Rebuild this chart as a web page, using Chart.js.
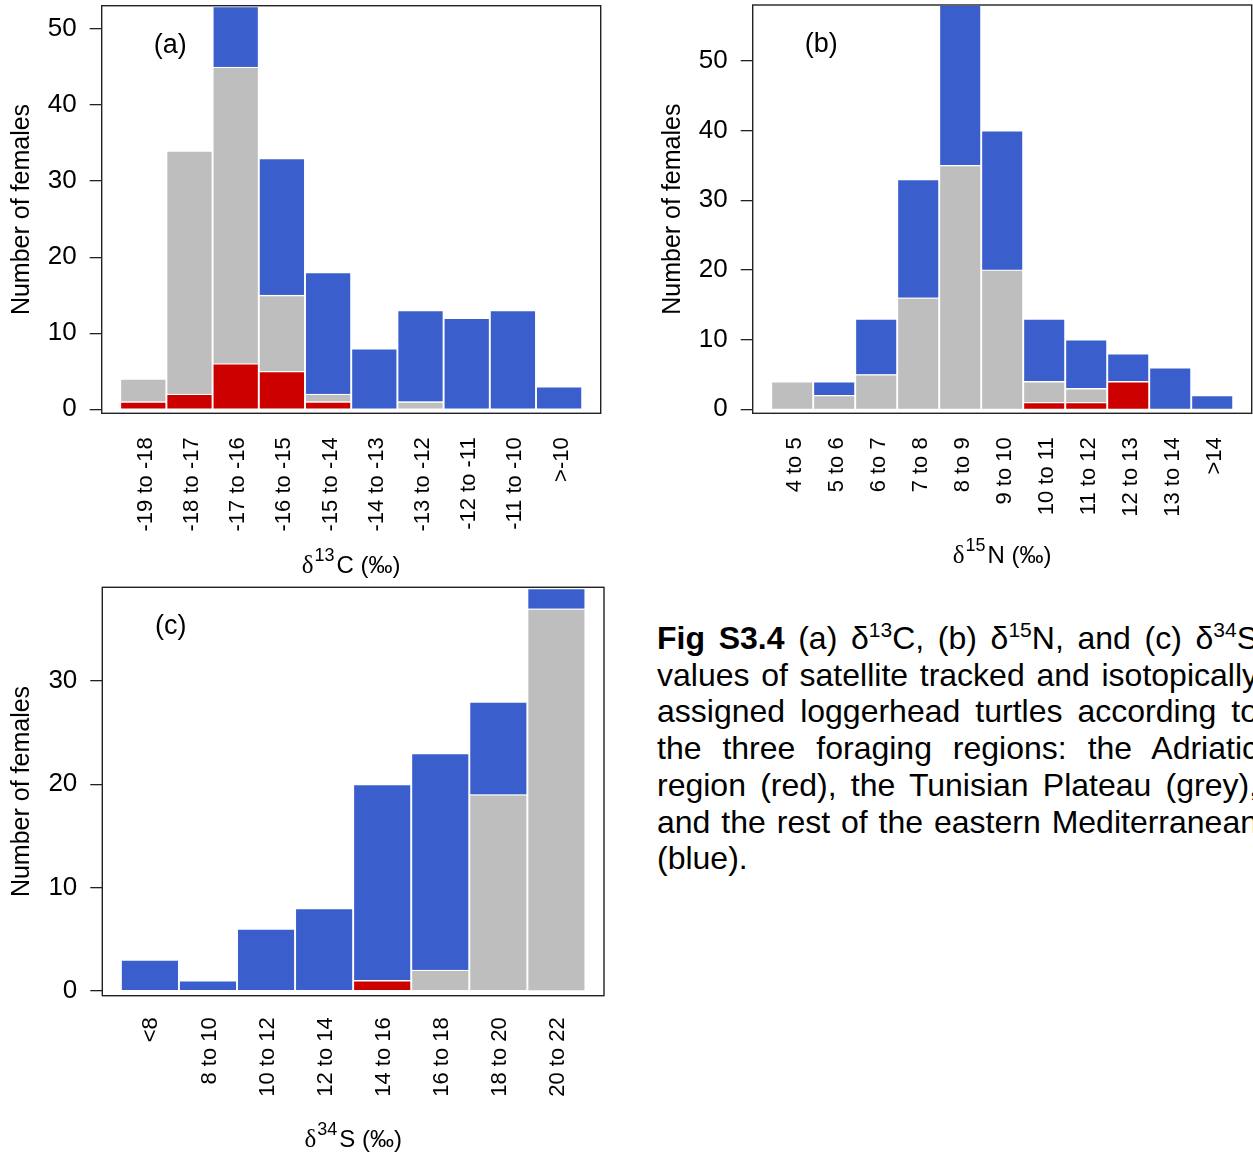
<!DOCTYPE html>
<html>
<head>
<meta charset="utf-8">
<title>Fig S3.4</title>
<script src="https://cdn.jsdelivr.net/npm/chart.js@4.4.1/dist/chart.umd.min.js"></script>
<style>
  html, body { margin: 0; padding: 0; background: #fff; }
  body { position: relative; width: 1253px; height: 1156px; overflow: hidden; }
  canvas { position: absolute; }
  #caption {
    position: absolute; left: 657px; top: 620px; width: 601px;
    font-family: 'Liberation Sans', Arial, sans-serif; font-size: 32px;
    line-height: 36.7px; color: #000;
  }
  #caption div { text-align: justify; text-align-last: justify; }
  #caption div.last { text-align: left; text-align-last: left; }
  #caption .sup { font-size: 21px; line-height: 0; position: relative; top: -12px; }
</style>
</head>
<body>
<canvas id="panelA" width="640" height="585" style="left:0;top:0"></canvas>
<canvas id="panelB" width="613" height="585" style="left:640px;top:0"></canvas>
<canvas id="panelC" width="640" height="571" style="left:0;top:585px"></canvas>

<div id="caption">
  <div><b>Fig S3.4</b> (a) δ<span class="sup">13</span>C, (b) δ<span class="sup">15</span>N, and (c) δ<span class="sup">34</span>S</div>
  <div>values of satellite tracked and isotopically</div>
  <div>assigned loggerhead turtles according to</div>
  <div>the three foraging regions: the Adriatic</div>
  <div>region (red), the Tunisian Plateau (grey),</div>
  <div>and the rest of the eastern Mediterranean</div>
  <div class="last">(blue).</div>
</div>

<script>
// Foraging region colours
const REGION_COLORS = { adriatic: '#CD0000', tunisian: '#BEBEBE', eastern: '#3A5FCD' };
const REGION_NAMES = ['Adriatic region', 'Tunisian Plateau', 'rest of the eastern Mediterranean'];

// (a) δ13C bins
const carbonBins = ['-19 to -18', '-18 to -17', '-17 to -16', '-16 to -15', '-15 to -14',
                    '-14 to -13', '-13 to -12', '-12 to -11', '-11 to -10', '>-10'];
const carbonAdriatic = [1, 2, 6, 5, 1, 0, 0, 0, 0, 0];
const carbonTunisian = [3, 32, 39, 10, 1, 0, 1, 0, 0, 0];
const carbonEastern  = [0, 0, 8, 18, 16, 8, 12, 12, 13, 3];
const carbonTicks    = [0, 10, 20, 30, 40, 50];

// (b) δ15N bins
const nitrogenBins = ['4 to 5', '5 to 6', '6 to 7', '7 to 8', '8 to 9', '9 to 10',
                      '10 to 11', '11 to 12', '12 to 13', '13 to 14', '>14'];
const nitrogenAdriatic = [0, 0, 0, 0, 0, 0, 1, 1, 4, 0, 0];
const nitrogenTunisian = [4, 2, 5, 16, 35, 20, 3, 2, 0, 0, 0];
const nitrogenEastern  = [0, 2, 8, 17, 23, 20, 9, 7, 4, 6, 2];
const nitrogenTicks    = [0, 10, 20, 30, 40, 50];

// (c) δ34S bins
const sulfurBins = ['<8', '8 to 10', '10 to 12', '12 to 14', '14 to 16', '16 to 18', '18 to 20', '20 to 22'];
const sulfurAdriatic = [0, 0, 0, 0, 1, 0, 0, 0];
const sulfurTunisian = [0, 0, 0, 0, 0, 2, 19, 37];
const sulfurEastern  = [3, 1, 6, 8, 19, 21, 9, 2];
const sulfurTicks    = [0, 10, 20, 30];

const SANS = "'Liberation Sans', Arial, sans-serif";
const SERIF = "'Liberation Serif', 'Times New Roman', serif";

// Axis title of the form δ<sup>mass</sup>Element (‰)
function isotopeTitle(mass, element) {
  return [
    { text: 'δ', font: `25px ${SERIF}`, gap: 1 },
    { text: mass, font: `18px ${SANS}`, dy: -12, gap: 2 },
    { text: element + ' (‰)', font: `24px ${SANS}` }
  ];
}

// Frame, panel tag and x-axis title
const panelDecor = {
  id: 'panelDecor',
  afterDraw(chart, args, opts) {
    const { ctx, chartArea: a } = chart;
    ctx.save();
    ctx.strokeStyle = '#222';
    ctx.lineWidth = 1.4;
    ctx.strokeRect(a.left, a.top, a.right - a.left, a.bottom - a.top);

    ctx.fillStyle = '#000';
    ctx.font = `27px ${SANS}`;
    ctx.textAlign = 'center';
    ctx.textBaseline = 'middle';
    ctx.fillText(opts.tag, a.left + 68.5, a.top + 39.5);

    ctx.textAlign = 'left';
    ctx.textBaseline = 'alphabetic';
    let total = 0;
    opts.title.forEach(p => {
      ctx.font = p.font;
      p.w = ctx.measureText(p.text).width;
      total += p.w + (p.gap || 0);
    });
    let x = (a.left + a.right) / 2 - total / 2;
    const y = a.bottom + opts.titleOffset;
    opts.title.forEach(p => {
      ctx.font = p.font;
      ctx.fillText(p.text, x, y + (p.dy || 0));
      x += p.w + (p.gap || 0);
    });
    ctx.restore();
  }
};

function points(values) {
  return values.map((v, i) => ({ x: i, y: v }));
}

function barSet(label, values, color) {
  return {
    label, data: points(values), backgroundColor: color,
    borderColor: '#ffffff', borderWidth: 1.3,
    barPercentage: 1, categoryPercentage: 1
  };
}

function makePanel(id, spec) {
  const n = spec.bins.length;
  return new Chart(document.getElementById(id), {
    type: 'bar',
    data: {
      datasets: [
        barSet(REGION_NAMES[0], spec.adriatic, REGION_COLORS.adriatic),
        barSet(REGION_NAMES[1], spec.tunisian, REGION_COLORS.tunisian),
        barSet(REGION_NAMES[2], spec.eastern, REGION_COLORS.eastern)
      ]
    },
    options: {
      responsive: false,
      animation: false,
      devicePixelRatio: 1,
      layout: { padding: spec.padding },
      plugins: {
        legend: { display: false },
        tooltip: { enabled: false },
        panelDecor: { tag: spec.tag, title: spec.title, titleOffset: spec.titleOffset }
      },
      scales: {
        x: {
          type: 'linear', stacked: true, bounds: 'data', offset: false,
          min: -0.04 * n - 0.5, max: 1.04 * n - 0.5,
          afterBuildTicks: s => { s.ticks = spec.bins.map((_, i) => ({ value: i })); },
          ticks: {
            autoSkip: false, minRotation: 90, maxRotation: 90,
            padding: spec.tickPad, labelOffset: spec.labelShift, color: '#000',
            font: { family: SANS, size: 22 },
            callback: v => spec.bins[v]
          },
          grid: { display: false, drawTicks: false, offset: false },
          border: { display: false },
          afterFit: s => { s.height = spec.xHeight; s.paddingLeft = 0; s.paddingRight = 0; }
        },
        y: {
          type: 'linear', stacked: true, bounds: 'data',
          min: spec.yMin, max: spec.yMax,
          afterBuildTicks: s => { s.ticks = spec.yTicks.map(v => ({ value: v })); },
          ticks: { padding: 13, color: '#000', font: { family: SANS, size: 26 } },
          grid: { drawOnChartArea: false, drawTicks: true, tickLength: 12, color: '#222', lineWidth: 1.3 },
          border: { display: false },
          title: {
            display: true, text: 'Number of females', color: '#000',
            font: { family: SANS, size: 25 }, padding: { top: 7, bottom: 0 }
          },
          afterFit: s => { s.width = 101.7; s.paddingTop = 0; s.paddingBottom = 0; }
        }
      }
    },
    plugins: [panelDecor]
  });
}

makePanel('panelA', {
  tag: '(a)', title: isotopeTitle('13', 'C'), titleOffset: 159.7,
  bins: carbonBins, adriatic: carbonAdriatic, tunisian: carbonTunisian, eastern: carbonEastern,
  yTicks: carbonTicks, yMin: -0.53, yMax: 53.06,
  padding: { left: 0, top: 5.7, right: 39.3, bottom: 0 },
  xHeight: 171.7, tickPad: 24, labelShift: 2.5
});

makePanel('panelB', {
  tag: '(b)', title: isotopeTitle('15', 'N'), titleOffset: 149.7,
  bins: nitrogenBins, adriatic: nitrogenAdriatic, tunisian: nitrogenTunisian, eastern: nitrogenEastern,
  yTicks: nitrogenTicks, yMin: -0.57, yMax: 58.0,
  padding: { left: 11, top: 5, right: 1.3, bottom: 0 },
  xHeight: 171.7, tickPad: 24, labelShift: 2.5
});

makePanel('panelC', {
  tag: '(c)', title: isotopeTitle('34', 'S'), titleOffset: 151,
  bins: sulfurBins, adriatic: sulfurAdriatic, tunisian: sulfurTunisian, eastern: sulfurEastern,
  yTicks: sulfurTicks, yMin: -0.48, yMax: 39.09,
  padding: { left: 0.6, top: 2.3, right: 36, bottom: 0 },
  xHeight: 160.3, tickPad: 21.5, labelShift: 1.5
});
</script>
</body>
</html>
